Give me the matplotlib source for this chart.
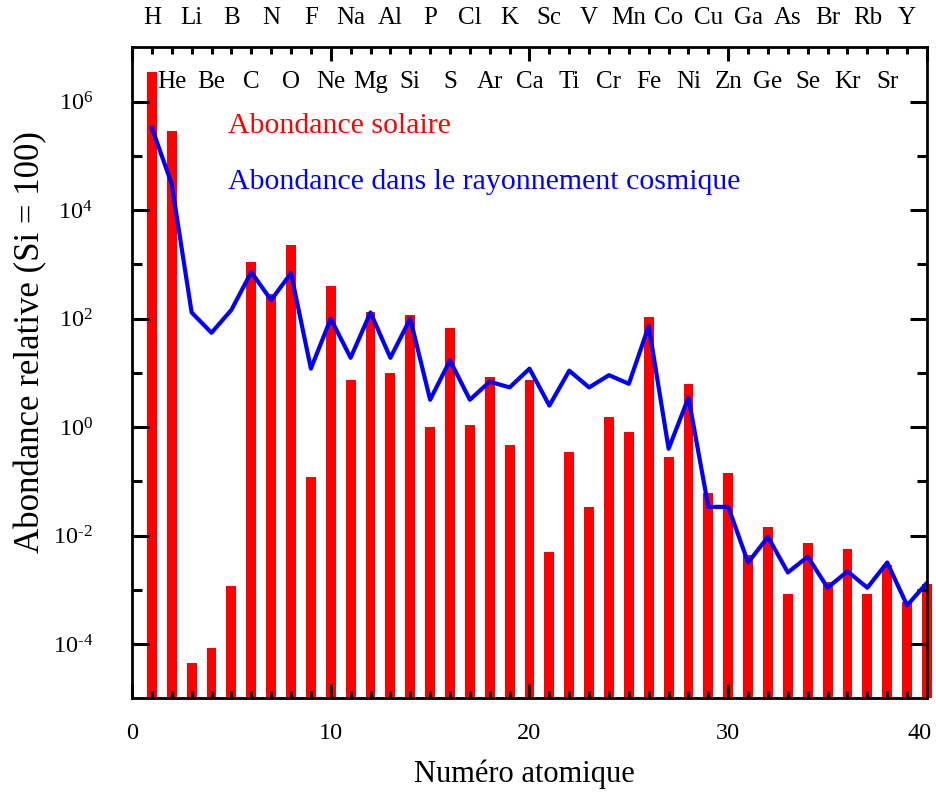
"""
Abondance solaire vs abondance dans le rayonnement cosmique (Si = 100).
"""
import numpy as np
import matplotlib
matplotlib.use('Agg')
import matplotlib.pyplot as plt
import matplotlib.transforms as mtransforms
from matplotlib.ticker import FixedLocator, FuncFormatter, NullFormatter

plt.rcParams['font.family'] = ['Liberation Serif', 'DejaVu Serif']
plt.rcParams['mathtext.fontset'] = 'custom'
plt.rcParams['mathtext.rm'] = 'Liberation Serif'
plt.rcParams['axes.unicode_minus'] = False

elements = ['H', 'He', 'Li', 'Be', 'B', 'C', 'N', 'O', 'F', 'Ne',
            'Na', 'Mg', 'Al', 'Si', 'P', 'S', 'Cl', 'Ar', 'K', 'Ca',
            'Sc', 'Ti', 'V', 'Cr', 'Mn', 'Fe', 'Co', 'Ni', 'Cu', 'Zn',
            'Ga', 'Ge', 'As', 'Se', 'Br', 'Kr', 'Rb', 'Sr', 'Y', 'Zr']
z = np.arange(1, 41)

solaire = [3.5e6, 2.9e5, 4.5e-5, 8.5e-5, 1.2e-3, 1.1e3, 2.8e2, 2.3e3, 0.12, 4.0e2,
           7.4, 1.34e2, 10, 1.15e2, 1.0, 68, 1.1, 8.5, 0.46, 7.4,
           5.0e-3, 0.35, 0.034, 1.55, 0.81, 1.07e2, 0.28, 6.3, 0.062, 0.145,
           4.4e-3, 0.0145, 8.5e-4, 7.4e-3, 1.4e-3, 5.8e-3, 8.5e-4, 2.9e-3, 5.9e-4, 1.3e-3]

cosmique = [3.3e5, 3.0e4, 1.3e2, 55, 1.45e2, 7.2e2, 2.2e2, 6.9e2, 12, 1.0e2,
            19, 1.3e2, 19, 100, 3.2, 17, 3.2, 6.9, 5.4, 12,
            2.5, 11, 5.4, 9.1, 6.3, 73, 0.40, 3.5, 0.034, 0.034,
            3.2e-3, 9.5e-3, 2.1e-3, 4.1e-3, 1.1e-3, 2.2e-3, 1.1e-3, 3.2e-3, 5.2e-4, 1.35e-3]

ymin, ymax = 1e-5, 1e7


def puissance(v, pos):
    e = int(round(np.log10(v)))
    if e < 0:
        return r'$\mathdefault{10^{\text{-}%d}}$' % -e
    return r'$\mathdefault{10^{%d}}$' % e


fig = plt.figure(figsize=(9.37, 7.92), dpi=100)
ax = fig.add_axes([0.1409, 0.1181, 0.8484, 0.8221])

ax.bar(z, np.array(solaire) - ymin, 0.5, bottom=ymin, color='#ff0000',
       clip_on=False, zorder=1)
ax.plot(z, cosmique, color='#0000ff', lw=3, zorder=2)

ax.set_yscale('log')
ax.set_xlim(0, 40)
ax.set_ylim(ymin, ymax)

ax.xaxis.set_major_locator(FixedLocator([0, 10, 20, 30, 40]))
ax.xaxis.set_minor_locator(FixedLocator(list(range(1, 40))))
ax.yaxis.set_major_locator(FixedLocator([1e-4, 1e-2, 1e0, 1e2, 1e4, 1e6]))
ax.yaxis.set_minor_locator(FixedLocator([1e-3, 1e-1, 1e1, 1e3, 1e5]))
ax.yaxis.set_major_formatter(FuncFormatter(puissance))
ax.yaxis.set_minor_formatter(NullFormatter())

ax.tick_params(axis='x', which='major', direction='in', top=True, length=10,
               width=2.2, labelsize=17.5, pad=18)
ax.tick_params(axis='x', which='minor', direction='in', top=True, length=5, width=2.2)
ax.tick_params(axis='y', which='major', direction='in', right=True, length=12,
               width=2.2, labelsize=17.5, pad=28)
ax.tick_params(axis='y', which='minor', direction='in', right=True, length=7, width=2.2)
for s in ax.spines.values():
    s.set_linewidth(2)

# the "40" label sits at the figure edge: nudge it left a little
last = ax.xaxis.get_major_ticks()[-1].label1
last.set_transform(last.get_transform() +
                   mtransforms.ScaledTranslation(-0.07, 0, fig.dpi_scale_trans))

for i, name in enumerate(elements[:39]):
    ypos = 1.045 if z[i] % 2 == 1 else 0.947
    ax.text(z[i], ypos, name, transform=ax.get_xaxis_transform(),
            ha='center', va='center', fontsize=18, clip_on=False)

ax.text(0.121, 0.868, 'Abondance solaire', transform=ax.transAxes,
        color='#ff0000', fontsize=21.5, va='baseline')
ax.text(0.121, 0.783, 'Abondance dans le rayonnement cosmique', transform=ax.transAxes,
        color='#0000ff', fontsize=21.5, va='baseline')

ax.set_xlabel('Numéro atomique', fontsize=22)
ax.xaxis.set_label_coords(0.494, -0.093)
ax.set_ylabel('Abondance relative (Si = 100)', fontsize=25)
ax.yaxis.set_label_coords(-0.106, 0.548)

fig.savefig('out.png', dpi=100)
